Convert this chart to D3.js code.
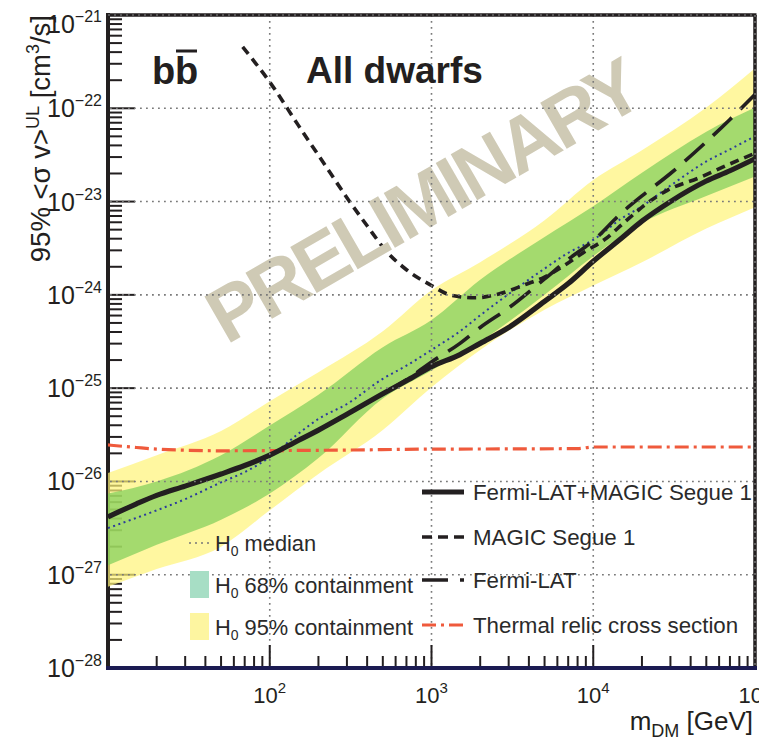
<!DOCTYPE html>
<html>
<head>
<meta charset="utf-8">
<script src="https://cdn.jsdelivr.net/npm/d3@7/dist/d3.min.js"></script>
<style>
  html, body { margin: 0; padding: 0; background: #fff; }
  svg { display: block; font-family: "Liberation Sans", Arial, Helvetica, sans-serif; }
</style>
</head>
<body>
<svg id="chart" width="759" height="743"></svg>
<script>
// Dark-matter mass grid (GeV) for the combined / Fermi-LAT limits and the median
const massGrid = [10, 15, 20, 30, 50, 70, 100, 150, 200, 300, 500, 700, 1000, 1500, 2000, 3000, 5000, 7000, 10000, 15000, 20000, 30000, 50000, 70000, 100000];

// 95% UL on <sigma v> (cm^3/s), Fermi-LAT + MAGIC Segue 1 combination
const combinedUL = [4.17e-27, 5.75e-27, 7.08e-27, 8.91e-27, 1.20e-26, 1.48e-26, 1.91e-26, 2.75e-26, 3.55e-26, 5.25e-26, 8.71e-26, 1.20e-25, 1.70e-25, 2.29e-25, 3.02e-25, 4.47e-25, 8.51e-25, 1.32e-24, 2.29e-24, 4.07e-24, 6.17e-24, 1.00e-23, 1.66e-23, 2.14e-23, 2.88e-23];

// Fermi-LAT dwarfs alone
const fermiUL = [4.17e-27, 5.75e-27, 7.08e-27, 8.91e-27, 1.20e-26, 1.48e-26, 1.91e-26, 2.75e-26, 3.55e-26, 5.25e-26, 8.71e-26, 1.23e-25, 1.91e-25, 3.02e-25, 4.47e-25, 7.24e-25, 1.48e-24, 2.40e-24, 3.80e-24, 7.59e-24, 1.15e-23, 2.00e-23, 4.37e-23, 7.59e-23, 1.41e-22];

// H0 (null hypothesis) median expectation
const h0Median = [3.16e-27, 4.07e-27, 4.90e-27, 6.46e-27, 9.77e-27, 1.26e-26, 1.82e-26, 3.24e-26, 4.68e-26, 6.76e-26, 1.26e-25, 1.74e-25, 2.57e-25, 4.07e-25, 6.03e-25, 1.02e-24, 1.91e-24, 2.82e-24, 3.89e-24, 6.61e-24, 8.91e-24, 1.48e-23, 2.69e-23, 3.63e-23, 5.01e-23];

// MAGIC Segue 1 limit
const magicMass = [68, 100, 150, 220, 300, 400, 520, 700, 1000, 1300, 1850, 2600, 3800, 5000, 6700, 8800, 11700, 15600, 20700, 28700, 46000, 67000, 100000];
const magicUL = [4.54e-22, 1.91e-22, 6.6e-23, 2.45e-23, 1.10e-23, 5.5e-24, 3.0e-24, 1.86e-24, 1.26e-24, 1.0e-24, 9.3e-25, 1.02e-24, 1.29e-24, 1.55e-24, 2.09e-24, 2.88e-24, 3.89e-24, 6.0e-24, 9.1e-24, 1.32e-23, 1.82e-23, 2.45e-23, 3.3e-23];

// H0 containment bands
const bandMass = [10, 20, 50, 100, 200, 500, 1000, 2000, 5000, 10000, 20000, 50000, 100000];
const band95Hi = [1.23e-26, 1.91e-26, 3.47e-26, 7.24e-26, 1.48e-25, 4.07e-25, 1.12e-24, 2.24e-24, 6.31e-24, 1.70e-23, 3.55e-23, 1.02e-22, 2.69e-22];
const band68Hi = [7.41e-27, 1.00e-26, 1.91e-26, 3.98e-26, 8.51e-26, 2.75e-25, 5.37e-25, 1.45e-24, 4.17e-24, 8.91e-24, 2.04e-23, 5.62e-23, 1.02e-22];
const band68Lo = [1.26e-27, 2.09e-27, 3.89e-27, 7.41e-27, 1.78e-26, 7.76e-26, 1.55e-25, 3.16e-25, 1.0e-24, 2.6e-24, 5.89e-24, 1.15e-23, 1.86e-23];
const band95Lo = [7.41e-28, 1.15e-27, 2.00e-27, 4.90e-27, 1.20e-26, 3.55e-26, 1.02e-25, 2.57e-25, 6.92e-25, 1.26e-24, 2.24e-24, 5.13e-24, 8.71e-24];

// Thermal relic cross section
const relicMass = [10, 15, 20, 30, 50, 100, 300, 1000, 3000, 8000, 10000, 100000];
const relicXS = [2.46e-26, 2.31e-26, 2.22e-26, 2.16e-26, 2.13e-26, 2.14e-26, 2.17e-26, 2.22e-26, 2.23e-26, 2.25e-26, 2.34e-26, 2.34e-26];

// Axis decades
const xMajor = [100, 1000, 10000, 100000];
const xMajorExp = ["2", "3", "4", "5"];
const yMajor = [1e-28, 1e-27, 1e-26, 1e-25, 1e-24, 1e-23, 1e-22, 1e-21];
const yMajorExp = ["\u221228", "\u221227", "\u221226", "\u221225", "\u221224", "\u221223", "\u221222", "\u221221"];

const svg = d3.select("#chart");
const L = 108, R = 755, T = 15, B = 668;
const x = d3.scaleLog().domain([10, 1e5]).range([L, R]);
const y = d3.scaleLog().domain([1e-28, 1e-21]).range([B, T]);

const ink = "#231f20";

// clip for plot contents
svg.append("defs").append("clipPath").attr("id", "plotClip")
  .append("rect").attr("x", L).attr("y", T).attr("width", R - L).attr("height", B - T);

// ----- left axis (drawn beneath the bands) -----
const yMinor = [];
for (let e = -28; e < -21; e++) for (let k = 2; k <= 9; k++) yMinor.push(k * Math.pow(10, e));
const gLeft = svg.append("g");
gLeft.selectAll("line.ymaj").data(yMajor).join("line")
  .attr("x1", L).attr("x2", L + 27).attr("y1", d => y(d)).attr("y2", d => y(d))
  .attr("stroke", ink).attr("stroke-width", 2);
gLeft.selectAll("line.ymin").data(yMinor).join("line")
  .attr("x1", L).attr("x2", L + 14).attr("y1", d => y(d)).attr("y2", d => y(d))
  .attr("stroke", ink).attr("stroke-width", 2);
gLeft.append("line").attr("x1", L).attr("x2", L).attr("y1", T - 2).attr("y2", B + 2)
  .attr("stroke", ink).attr("stroke-width", 4);

// ----- bands -----
const plot = svg.append("g").attr("clip-path", "url(#plotClip)");
const bandArea = (lo, hi) => d3.area()
  .x((d, i) => x(bandMass[i]))
  .y0((d, i) => y(lo[i]))
  .y1((d, i) => y(hi[i]))
  .curve(d3.curveMonotoneX)(bandMass);
plot.append("path").attr("d", bandArea(band95Lo, band95Hi))
  .attr("fill", "rgb(255,244,119)").attr("fill-opacity", 0.7);
plot.append("path").attr("d", bandArea(band68Lo, band68Hi))
  .attr("fill", "rgb(126,205,89)").attr("fill-opacity", 0.7);

// ----- watermark -----
svg.append("text")
  .attr("transform", "translate(436,224) rotate(-30)")
  .attr("text-anchor", "middle")
  .attr("font-weight", "bold").attr("font-size", 77).attr("letter-spacing", -4)
  .attr("fill", "#cfcab5")
  .text("PRELIMINARY");

// ----- grid -----
const gridH = [1e-27, 1e-26, 1e-25, 1e-24, 1e-23, 1e-22];
const gridV = [100, 1000, 10000];
const gGrid = svg.append("g").attr("stroke", "#7a7a7a").attr("stroke-width", 1.6).attr("stroke-dasharray", "1.8,4.2");
gGrid.selectAll("line.h").data(gridH).join("line")
  .attr("x1", L + 2).attr("x2", R).attr("y1", d => y(d)).attr("y2", d => y(d));
gGrid.selectAll("line.v").data(gridV).join("line")
  .attr("x1", d => x(d)).attr("x2", d => x(d)).attr("y1", T).attr("y2", B - 2);

// ----- frame top/right, bottom axis -----
svg.append("line").attr("x1", L).attr("x2", R + 1.5).attr("y1", T).attr("y2", T).attr("stroke", ink).attr("stroke-width", 3.5);
svg.append("line").attr("x1", R).attr("x2", R).attr("y1", T).attr("y2", B).attr("stroke", ink).attr("stroke-width", 3.5);
svg.append("line").attr("x1", L).attr("x2", R).attr("y1", T).attr("y2", T)
  .attr("stroke", "#8a8a8a").attr("stroke-width", 1.2).attr("stroke-dasharray", "2,4");
svg.append("line").attr("x1", R).attr("x2", R).attr("y1", T).attr("y2", B)
  .attr("stroke", "#8a8a8a").attr("stroke-width", 1.2).attr("stroke-dasharray", "2,4");

const xMinor = [];
for (let e = 1; e < 5; e++) for (let k = 2; k <= 9; k++) xMinor.push(k * Math.pow(10, e));
const gBot = svg.append("g");
gBot.selectAll("line.xmin").data(xMinor).join("line")
  .attr("x1", d => x(d)).attr("x2", d => x(d)).attr("y1", B).attr("y2", B - 12)
  .attr("stroke", ink).attr("stroke-width", 2);
gBot.selectAll("line.xmaj").data(xMajor.slice(0, 3)).join("line")
  .attr("x1", d => x(d)).attr("x2", d => x(d)).attr("y1", B).attr("y2", B - 23)
  .attr("stroke", ink).attr("stroke-width", 2);
gBot.append("line").attr("x1", L - 2).attr("x2", R + 2).attr("y1", B).attr("y2", B)
  .attr("stroke", "#1b1b52").attr("stroke-width", 4);

// ----- curves -----
const lineGen = (xs) => d3.line()
  .x((d, i) => x(xs[i])).y(d => y(d))
  .curve(d3.curveMonotoneX);

plot.append("path").attr("d", lineGen(relicMass)(relicXS))
  .attr("fill", "none").attr("stroke", "#ef5a3c").attr("stroke-width", 3.2)
  .attr("stroke-dasharray", "14,5,3,5");
plot.append("path").attr("d", lineGen(massGrid)(h0Median))
  .attr("fill", "none").attr("stroke", "#2b3a9c").attr("stroke-width", 2)
  .attr("stroke-dasharray", "2,3.5");
plot.append("path").attr("d", lineGen(massGrid)(fermiUL))
  .attr("fill", "none").attr("stroke", ink).attr("stroke-width", 3.6)
  .attr("stroke-dasharray", "26,12");
plot.append("path").attr("d", lineGen(magicMass)(magicUL))
  .attr("fill", "none").attr("stroke", ink).attr("stroke-width", 3.6)
  .attr("stroke-dasharray", "9,6");
plot.append("path").attr("d", lineGen(massGrid)(combinedUL))
  .attr("fill", "none").attr("stroke", ink).attr("stroke-width", 5.2);

// ----- tick labels -----
const yLab = svg.append("g").attr("fill", ink);
yMajor.forEach((v, i) => {
  const yy = y(v) + 9 + (i === yMajor.length - 1 ? 9 : 0);
  const t = yLab.append("text").attr("x", 102).attr("y", yy).attr("text-anchor", "end").attr("font-size", 25);
  t.append("tspan").text("10");
  t.append("tspan").attr("font-size", 16).attr("dy", -11).text(yMajorExp[i]);
});
const xLab = svg.append("g").attr("fill", ink);
xMajor.forEach((v, i) => {
  const t = xLab.append("text").attr("x", x(v)).attr("y", 703).attr("text-anchor", "middle").attr("font-size", 22);
  t.append("tspan").text("10");
  t.append("tspan").attr("font-size", 15).attr("dy", -10).text(xMajorExp[i]);
});

// ----- axis titles -----
const yt = svg.append("text").attr("transform", "translate(50,15) rotate(-90)")
  .attr("text-anchor", "end").attr("font-size", 27.5).attr("fill", ink);
yt.append("tspan").text("95% <\u03c3 v>");
yt.append("tspan").attr("font-size", 18).attr("dy", -11).text("UL");
yt.append("tspan").attr("dy", 11).text(" [cm");
yt.append("tspan").attr("font-size", 18).attr("dy", -11).text("3");
yt.append("tspan").attr("dy", 11).text("/s]");

const xt = svg.append("text").attr("x", 753).attr("y", 730)
  .attr("text-anchor", "end").attr("font-size", 26).attr("fill", ink);
xt.append("tspan").text("m");
xt.append("tspan").attr("font-size", 18).attr("dy", 7).text("DM");
xt.append("tspan").attr("dy", -7).text(" [GeV]");

// ----- in-plot labels -----
svg.append("text").attr("x", 152).attr("y", 84).attr("font-size", 38).attr("font-weight", "bold").attr("fill", ink).text("b");
svg.append("text").attr("x", 175).attr("y", 84).attr("font-size", 38).attr("font-weight", "bold").attr("fill", ink).text("b");
svg.append("line").attr("x1", 176).attr("x2", 197).attr("y1", 51).attr("y2", 51).attr("stroke", ink).attr("stroke-width", 3);
svg.append("text").attr("x", 306).attr("y", 83).attr("font-size", 37).attr("font-weight", "bold").attr("fill", ink).text("All dwarfs");

// ----- legend (H0 expectations) -----
const legL = svg.append("g").attr("font-size", 21.8).attr("fill", "#2a2a2a");
legL.append("line").attr("x1", 189).attr("x2", 210).attr("y1", 543).attr("y2", 543)
  .attr("stroke", "#777").attr("stroke-width", 1.6).attr("stroke-dasharray", "2,4");
legL.append("rect").attr("x", 190).attr("y", 571).attr("width", 19).attr("height", 27).attr("fill", "#a7dec5");
legL.append("rect").attr("x", 190).attr("y", 613).attr("width", 19).attr("height", 27).attr("fill", "#fdf5a0");
[["median", 551], ["68% containment", 593], ["95% containment", 635]].forEach(([s, by]) => {
  const t = legL.append("text").attr("x", 215).attr("y", by);
  t.append("tspan").text("H");
  t.append("tspan").attr("font-size", 14).attr("dy", 5).text("0");
  t.append("tspan").attr("dy", -5).text(" " + s);
});

// ----- legend (limits) -----
const legR = svg.append("g").attr("font-size", 22.3).attr("fill", "#2a2a2a");
const legItems = [
  { label: "Fermi-LAT+MAGIC Segue 1", y: 492, stroke: ink, w: 5.2, dash: null },
  { label: "MAGIC Segue 1", y: 537, stroke: ink, w: 3.6, dash: "10,6" },
  { label: "Fermi-LAT", y: 580, stroke: ink, w: 3.6, dash: "26,12" },
  { label: "Thermal relic cross section", y: 625, stroke: "#ef5a3c", w: 3.2, dash: "14,5,3,5" }
];
legItems.forEach(it => {
  const ln = legR.append("line").attr("x1", 422).attr("x2", 464).attr("y1", it.y).attr("y2", it.y)
    .attr("stroke", it.stroke).attr("stroke-width", it.w);
  if (it.dash) ln.attr("stroke-dasharray", it.dash);
  legR.append("text").attr("x", 473).attr("y", it.y + 8).text(it.label);
});
</script>
</body>
</html>
